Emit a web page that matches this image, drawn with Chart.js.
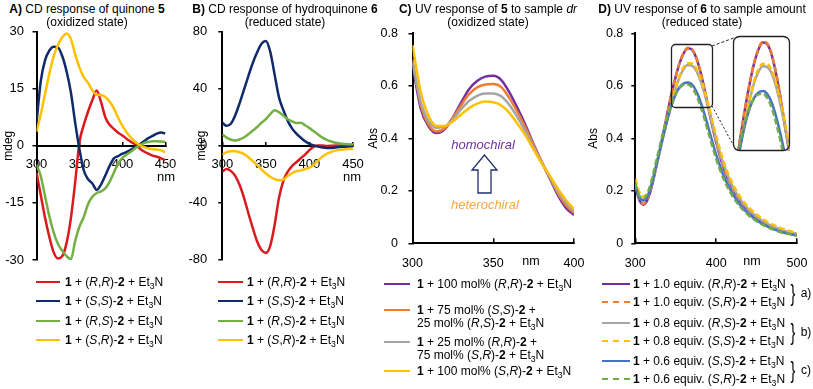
<!DOCTYPE html>
<html><head><meta charset="utf-8">
<script src="https://cdn.jsdelivr.net/npm/chart.js@4/dist/chart.umd.min.js"></script>
<style>
body{margin:0;background:#fff;}
#fig{position:relative;width:813px;height:389px;overflow:hidden;background:#fff;font-family:'Liberation Sans',Arial,Helvetica,sans-serif;color:#000;}
canvas{position:absolute;}
.t{position:absolute;white-space:nowrap;font-size:12px;line-height:1;transform:translate(-50%,-50%);}
.lg{position:absolute;white-space:nowrap;font-size:12px;line-height:13px;}
.sw{position:absolute;height:0;}
sub{font-size:0.72em;vertical-align:-0.3em;line-height:0;}
svg{position:absolute;left:0;top:0;pointer-events:none;}
</style></head>
<body><div id="fig"></div>
<script>
// ---------- DATA ----------
// Panel A: CD of quinone 5 (mdeg)
const nmA = [300,305,310,315,320,325,330,335,340,345,350,355,360,365,370,375,380,385,390,395,400,405,410,415,420,425,430,435,440,445,450];
const cdA_RR = [-7,-13,-19,-24,-28,-29.6,-29,-25.5,-19,-9.5,1,5.5,9,12,14.5,11.5,7.5,5.5,4.4,3.4,2.7,1.8,1,0.3,-0.7,-1.5,-2.1,-2.6,-2.9,-3.3,-3.8];
const cdA_SS = [6,17,22.5,25,26,25.8,23.5,19.5,14,6,-1,-6.5,-8.8,-9.9,-11.6,-10.2,-7.8,-5.3,-3.3,-2.7,-2.1,-1.6,-1,-0.3,0.4,1.2,2,2.6,3.2,3.5,3.2];
const cdA_RS = [-5,-8,-13.3,-18.6,-22.8,-25.8,-27.6,-29,-29.8,-25,-21.2,-18.7,-15.3,-13.4,-12.4,-12,-11.2,-9.5,-7,-4.6,-3.2,-2.3,-1.5,-0.6,0.1,0.7,1,1.2,1.2,1.1,1];
const cdA_SR = [3.7,8.3,13.7,19,23.5,26.5,28.5,29.5,28,24,20.5,18,16.5,14.5,13.4,13.3,12.8,11.6,9.8,7.3,5.2,3.5,2.1,1,0.2,-0.3,-0.7,-0.9,-1,-1.2,-1.7];
// Panel B: CD of hydroquinone 6 (mdeg)
const nmB = nmA;
const cdB_RR = [-18.2,-16.5,-18,-21.5,-28,-37,-47.8,-58,-67.5,-73.5,-75.5,-70.5,-56,-37,-25,-18.5,-14.5,-11.8,-9,-6.4,-3.2,-0.8,0,0,-0.3,-0.2,0,0,0,0,0];
const cdB_SS = [16,13.8,15.5,21.5,30,39.5,49,58,65.5,71.5,73.5,66,50,34,25,17.5,12,8.3,5.5,3,1.2,0,-0.8,-1.4,-1.7,-1.7,-1.4,-1.1,-0.9,-0.7,-0.5];
const cdB_RS = [7.8,5.5,4,3.5,4.3,5.8,8,10.5,13,16,18.5,22,24.8,23.5,21,18.5,17,15.8,16,14.2,12.2,10,7.8,5.5,4,2.8,1.9,1.4,1.1,0.9,0.7];
const cdB_SR = [-6.4,-4.6,-4,-4,-4.8,-6,-8.3,-11,-13.8,-16.8,-19.7,-22,-23.7,-24.5,-24,-21.5,-19.5,-18,-17.5,-16.5,-15.5,-13.5,-10.5,-7.8,-5.8,-4.5,-3.6,-3,-2.7,-2.5,-2.4];
// Panel C: UV of 5 vs sample dr (Abs)
const nmC = [300,305,310,315,320,325,330,335,340,345,350,355,360,365,370,375,380,385,390,395,400];
const absC_100RR = [0.68,0.515,0.445,0.42,0.435,0.48,0.535,0.587,0.618,0.635,0.638,0.622,0.575,0.515,0.45,0.377,0.31,0.247,0.183,0.135,0.108];
const absC_75SS = [0.70,0.53,0.452,0.426,0.438,0.478,0.525,0.568,0.594,0.605,0.607,0.595,0.553,0.5,0.44,0.373,0.31,0.25,0.19,0.145,0.115];
const absC_25RR = [0.69,0.54,0.465,0.44,0.445,0.472,0.51,0.542,0.562,0.571,0.571,0.56,0.527,0.48,0.425,0.365,0.308,0.253,0.198,0.155,0.122];
const absC_100SR = [0.755,0.58,0.485,0.447,0.447,0.465,0.49,0.515,0.532,0.54,0.537,0.525,0.497,0.455,0.41,0.357,0.305,0.258,0.208,0.165,0.13];
// Panel D: UV of 6 vs sample amount (Abs)
const nmD = [300,305,310,315,320,325,330,335,340,345,350,355,360,365,370,375,380,385,390,400,410,420,430,440,450,460,470,480,490,500];
const absD_10RR = [0.215,0.165,0.147,0.165,0.212,0.278,0.35,0.425,0.5,0.572,0.635,0.688,0.725,0.743,0.738,0.71,0.66,0.595,0.522,0.385,0.28,0.21,0.16,0.124,0.097,0.076,0.06,0.048,0.039,0.032];
const absD_10SR = [0.22,0.168,0.15,0.168,0.215,0.28,0.352,0.427,0.502,0.574,0.637,0.69,0.727,0.745,0.74,0.712,0.662,0.598,0.525,0.388,0.283,0.212,0.162,0.126,0.099,0.078,0.062,0.05,0.041,0.034];
const absD_08RS = [0.225,0.18,0.165,0.18,0.222,0.28,0.345,0.41,0.475,0.535,0.59,0.635,0.665,0.679,0.677,0.66,0.625,0.577,0.52,0.395,0.292,0.218,0.166,0.129,0.101,0.08,0.064,0.052,0.043,0.036];
const absD_08SS = [0.245,0.195,0.178,0.19,0.23,0.287,0.35,0.413,0.477,0.537,0.593,0.64,0.672,0.686,0.685,0.668,0.634,0.587,0.532,0.41,0.305,0.23,0.176,0.138,0.11,0.088,0.071,0.058,0.048,0.04];
const absD_06SS = [0.22,0.175,0.163,0.178,0.222,0.285,0.35,0.415,0.475,0.527,0.568,0.595,0.609,0.613,0.605,0.582,0.545,0.498,0.445,0.338,0.252,0.19,0.145,0.112,0.088,0.069,0.055,0.044,0.036,0.03];
const absD_06SR = [0.228,0.182,0.171,0.19,0.238,0.302,0.367,0.43,0.486,0.533,0.569,0.593,0.604,0.605,0.594,0.568,0.528,0.48,0.426,0.322,0.24,0.181,0.138,0.107,0.084,0.066,0.053,0.042,0.035,0.029];

// Labels
const titles = [
  ['<b>A)</b> CD response of quinone <b>5</b>','(oxidized state)'],
  ['<b>B)</b> CD response of hydroquinone <b>6</b>','(reduced state)'],
  ['<b>C)</b> UV response of <b>5</b> to sample <i>dr</i>','(oxidized state)'],
  ['<b>D)</b> UV response of <b>6</b> to sample amount','(reduced state)']
];
const legAB = [
  '<b>1</b> + (<i>R</i>,<i>R</i>)-<b>2</b> + Et<sub>3</sub>N',
  '<b>1</b> + (<i>S</i>,<i>S</i>)-<b>2</b> + Et<sub>3</sub>N',
  '<b>1</b> + (<i>R</i>,<i>S</i>)-<b>2</b> + Et<sub>3</sub>N',
  '<b>1</b> + (<i>S</i>,<i>R</i>)-<b>2</b> + Et<sub>3</sub>N'
];
const legC = [
  '<b>1</b> + 100 mol% (<i>R</i>,<i>R</i>)-<b>2</b> + Et<sub>3</sub>N',
  '<b>1</b> + 75 mol% (<i>S</i>,<i>S</i>)-<b>2</b> +<br>25 mol% (<i>R</i>,<i>S</i>)-<b>2</b> + Et<sub>3</sub>N',
  '<b>1</b> + 25 mol% (<i>R</i>,<i>R</i>)-<b>2</b> +<br>75 mol% (<i>S</i>,<i>R</i>)-<b>2</b> + Et<sub>3</sub>N',
  '<b>1</b> + 100 mol% (<i>S</i>,<i>R</i>)-<b>2</b> + Et<sub>3</sub>N'
];
const legD = [
  '<b>1</b> + 1.0 equiv. (<i>R</i>,<i>R</i>)-<b>2</b> + Et<sub>3</sub>N',
  '<b>1</b> + 1.0 equiv. (<i>S</i>,<i>R</i>)-<b>2</b> + Et<sub>3</sub>N',
  '<b>1</b> + 0.8 equiv. (<i>R</i>,<i>S</i>)-<b>2</b> + Et<sub>3</sub>N',
  '<b>1</b> + 0.8 equiv. (<i>S</i>,<i>S</i>)-<b>2</b> + Et<sub>3</sub>N',
  '<b>1</b> + 0.6 equiv. (<i>S</i>,<i>S</i>)-<b>2</b> + Et<sub>3</sub>N',
  '<b>1</b> + 0.6 equiv. (<i>S</i>,<i>R</i>)-<b>2</b> + Et<sub>3</sub>N'
];
const groupD = ['a)','b)','c)'];

// Colours
const colAB = ['#DA1A1F','#102A6B','#72B043','#FFC000'];
const colC = ['#7030A0','#ED7D31','#A5A5A5','#FFC000'];
const colD = ['#7030A0','#ED7D31','#A5A5A5','#FFC000','#4472C4','#70AD47'];
const dashD = [[],[6,3],[],[6,3],[],[6,3]];

// ---------- BUILD ----------
const fig = document.getElementById('fig');
Chart.defaults.font.family = "'Liberation Sans', Arial, Helvetica, sans-serif";
Chart.defaults.color = '#000';

function ds(xs, ys, color, dash) {
  return {data: xs.map((x,i)=>({x:x, y:ys[i]})), borderColor: color, backgroundColor: color,
    borderWidth: 2.5, borderDash: dash || [], pointRadius: 0, fill: false, cubicInterpolationMode: 'monotone'};
}
function yAxis(min,max,step,w,title,tpad,lpad,fs){
  return {type:'linear',min:min,max:max,
    ticks:{stepSize:step,color:'#000',font:{size:fs},padding:lpad,autoSkip:false},
    grid:{drawOnChartArea:false,drawTicks:true,tickLength:4,color:'#000',lineWidth:1.5},
    border:{display:true,color:'#000',width:2},
    title:{display:true,text:title,color:'#000',font:{size:12},padding:{top:tpad,bottom:0}},
    afterFit:function(s){s.width=w; s.paddingTop=0; s.paddingBottom=0;}};
}
function xAxis(min,max,step,pos,lpad,fs,h){
  return {type:'linear',min:min,max:max,position:pos,
    ticks:{stepSize:step,color:'#000',font:{size:fs},padding:lpad,autoSkip:false,maxRotation:0},
    grid:{drawOnChartArea:false,drawTicks:true,tickLength:-5,color:'#000',lineWidth:1.5},
    border:{display:true,color:'#000',width:2},
    afterFit:function(s){s.height=h; s.paddingLeft=0; s.paddingRight=0;}};
}
function makeChart(left,top,w,h,datasets,scales,padding){
  const c = document.createElement('canvas');
  c.width=w; c.height=h; c.style.left=left+'px'; c.style.top=top+'px';
  c.style.width=w+'px'; c.style.height=h+'px';
  fig.appendChild(c);
  datasets.forEach((d,i)=>{ d.order = -i; });
  return new Chart(c.getContext('2d'), {type:'line', data:{datasets:datasets},
    options:{responsive:false,animation:false,devicePixelRatio:1,events:[],
      layout:{padding:padding},
      plugins:{legend:{display:false},tooltip:{enabled:false}},
      scales:scales}});
}

// Panel A
makeChart(0,18,182,250,
  [ds(nmA,cdA_RR,colAB[0]),ds(nmA,cdA_SS,colAB[1]),ds(nmA,cdA_RS,colAB[2]),ds(nmA,cdA_SR,colAB[3])],
  {x:xAxis(300,450,50,{y:0},16,13,0), y:yAxis(-30,30,15,36.5,'mdeg',1.8,8.5,13)},
  {top:13.5,right:16.5,bottom:8,left:0});
// Panel B
makeChart(184,18,186,250,
  [ds(nmB,cdB_RR,colAB[0]),ds(nmB,cdB_SS,colAB[1]),ds(nmB,cdB_RS,colAB[2]),ds(nmB,cdB_SR,colAB[3])],
  {x:xAxis(300,450,50,{y:0},16,13,0), y:yAxis(-80,80,40,38.3,'mdeg',10.8,11,13)},
  {top:13.7,right:17,bottom:8.7,left:0});
// Panel C
makeChart(364,18,222,262,
  [ds(nmC,absC_100RR,colC[0]),ds(nmC,absC_75SS,colC[1]),ds(nmC,absC_25RR,colC[2]),ds(nmC,absC_100SR,colC[3])],
  {x:xAxis(300,400,50,'bottom',18,12.5,36.7), y:yAxis(0,0.8,0.2,48.5,'Abs',2.8,10.5,12.5)},
  {top:15.3,right:12,bottom:0,left:0});
// Panel D
const dsD = () => [absD_10RR,absD_10SR,absD_08RS,absD_08SS,absD_06SS,absD_06SR].map((a,i)=>ds(nmD,a,colD[i],dashD[i]));
makeChart(584,18,226,262, dsD(),
  {x:xAxis(300,500,100,'bottom',18,12.5,36.7), y:yAxis(0,0.8,0.2,51.3,'Abs',2.8,8,12.5)},
  {top:15.3,right:13,bottom:0,left:0});
// Panel D inset (magnified peak)
makeChart(734.5,37.5,55,113, dsD(),
  {x:{type:'linear',display:false,min:333,max:396}, y:{type:'linear',display:false,min:0.452,max:0.755}},
  {top:0,right:0,bottom:0,left:0});

// ---------- TEXT / ANNOTATIONS ----------
function txt(html,x,y,style){
  const d=document.createElement('div'); d.className='t'; d.innerHTML=html;
  d.style.left=x+'px'; d.style.top=y+'px'; if(style) d.style.cssText+=style; fig.appendChild(d); return d;
}
const tcx = [[87,87],[285,285],[488,488],[702,702]];
titles.forEach((t,i)=>{ txt(t[0],tcx[i][0],8.5,'font-size:12px'); txt(t[1],tcx[i][1],22,'font-size:12px'); });
txt('nm',166,176,'font-size:13px');
txt('nm',352,176,'font-size:13px');
txt('nm',531,261,'font-size:12.5px');
txt('nm',752,261,'font-size:12.5px');
txt('homochiral',483,144,'font-size:13px;font-style:italic;color:#7030A0');
txt('heterochiral',485,204,'font-size:13px;font-style:italic;color:#F4A641');

function legend(sx,sw,tx,ys,labels,cols,dashes){
  labels.forEach((l,i)=>{
    const s=document.createElement('div'); s.className='sw';
    s.style.left=sx+'px'; s.style.width=sw+'px'; s.style.top=(ys[i]-1.25)+'px';
    s.style.borderTop='2.5px '+((dashes&&dashes[i].length)?'dashed':'solid')+' '+cols[i];
    fig.appendChild(s);
    const d=document.createElement('div'); d.className='lg'; d.innerHTML=l;
    d.style.left=tx+'px'; d.style.top=(ys[i]-6.5)+'px'; fig.appendChild(d);
  });
}
legend(36,24,65,[282,301.5,321,340.5],legAB,colAB);
legend(218,25,247,[282,301.5,321,340.5],legAB,colAB);
legend(384,26,417,[284,310,342,371],legC,colC);
legend(602,28,633,[284,302,323,341,361,379],legD,colD,dashD);
[293,332,370].forEach((y,i)=>{
  txt('}',793,y,'font-size:24px;transform:translate(-50%,-50%) scaleX(0.6);font-weight:300');
  txt(groupD[i],806,y,'font-size:12px');
});

const svgNS='http://www.w3.org/2000/svg';
const svg=document.createElementNS(svgNS,'svg');
svg.setAttribute('width','813'); svg.setAttribute('height','389');
svg.innerHTML =
 '<polygon points="484.5,155 472,170 478,170 478,193 491,193 491,170 497,170" fill="#fff" stroke="#1F2F6B" stroke-width="1.3"/>'+
 '<rect x="671.5" y="44.5" width="41" height="63" rx="4" fill="none" stroke="#222" stroke-width="1.3"/>'+
 '<rect x="733.5" y="36.5" width="56" height="114" rx="6" fill="none" stroke="#222" stroke-width="1.3"/>'+
 '<line x1="712" y1="46" x2="735" y2="37.5" stroke="#222" stroke-width="1" stroke-dasharray="3,2"/>'+
 '<line x1="712" y1="106" x2="736" y2="150" stroke="#222" stroke-width="1" stroke-dasharray="2,2"/>';
fig.appendChild(svg);
</script>
</body></html>
